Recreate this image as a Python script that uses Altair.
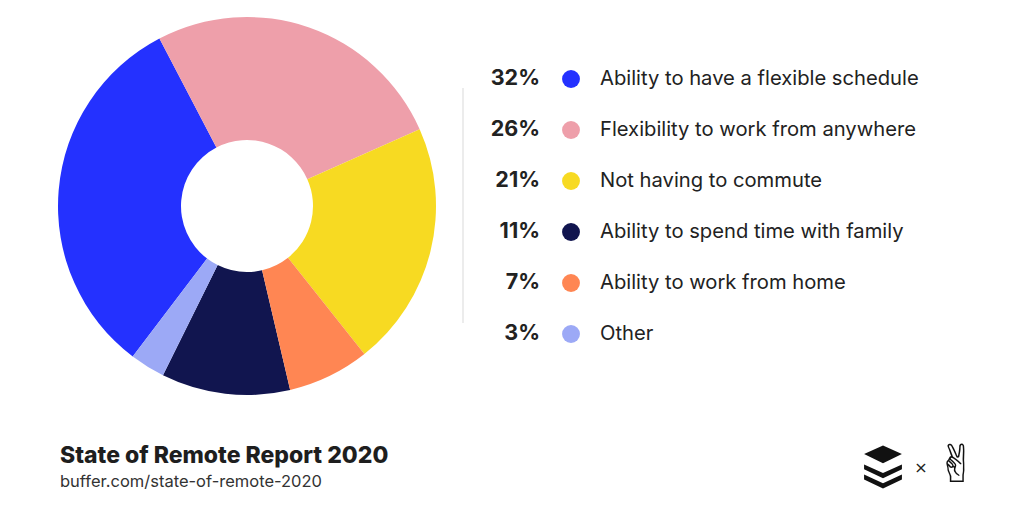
import math
import altair as alt
import pandas as pd

# ---- data ----
categories = [
    "Ability to have a flexible schedule",
    "Flexibility to work from anywhere",
    "Not having to commute",
    "Ability to spend time with family",
    "Ability to work from home",
    "Other",
]
values = [32, 26, 21, 11, 7, 3]
colors = ["#2431ff", "#ee9faa", "#f7da22", "#11154f", "#ff8653", "#9ca9f6"]
pie_order = [
    "Flexibility to work from anywhere",
    "Not having to commute",
    "Ability to work from home",
    "Ability to spend time with family",
    "Other",
    "Ability to have a flexible schedule",
]
title_text = "State of Remote Report 2020"
subtitle_text = "buffer.com/state-of-remote-2020"

df = pd.DataFrame({
    "category": categories,
    "value": values,
    "pct": [f"{v}%" for v in values],
    "pie_rank": [pie_order.index(c) for c in categories],
})

color_scale = alt.Scale(domain=categories, range=colors)
start = -27.6 * math.pi / 180

base = alt.Chart(df)

arc = base.mark_arc(outerRadius=189, innerRadius=66).encode(
    theta=alt.Theta("value:Q", stack=True,
                    scale=alt.Scale(range=[start, start + 2 * math.pi])),
    color=alt.Color("category:N", scale=color_scale, legend=None),
    order=alt.Order("pie_rank:Q"),
    x=alt.value(239),
    y=alt.value(198),
)

yenc = alt.Y("category:N", sort=categories, axis=None,
             scale=alt.Scale(type="point", range=[71, 326], padding=0))

pct = base.mark_text(align="right", baseline="middle", font="Inter",
                     fontWeight=700, fontSize=21.5, color="#222222").encode(
    x=alt.value(532), y=yenc, text="pct:N")

dots = base.mark_circle(size=320, opacity=1).encode(
    x=alt.value(563), y=yenc,
    color=alt.Color("category:N", scale=color_scale, legend=None))

labels = base.mark_text(align="left", baseline="middle", font="Inter",
                        fontSize=20.2, color="#222222").encode(
    x=alt.value(592), y=yenc, text="category:N")

sep = alt.Chart(pd.DataFrame({"a": [0]})).mark_rule(color="#e6e6e6", strokeWidth=1.5).encode(
    x=alt.value(455), y=alt.value(80), y2=alt.value(315))

titles = alt.Chart(pd.DataFrame({"t": [title_text]})).mark_text(
    align="left", baseline="alphabetic", font="Inter", fontWeight=800,
    fontSize=23, color="#1e1e1e").encode(
    x=alt.value(52), y=alt.value(455), text="t:N")

subtitle = alt.Chart(pd.DataFrame({"t": [subtitle_text]})).mark_text(
    align="left", baseline="alphabetic", font="Inter",
    fontSize=16.5, color="#333333").encode(
    x=alt.value(52), y=alt.value(479), text="t:N")

buffer_path = (
    "M0,-1 L0.88,-0.6 L0,-0.18 L-0.88,-0.6 Z "
    "M-0.88,-0.12 L0,0.28 L0.88,-0.12 L0.88,0.1 L0,0.52 L-0.88,0.1 Z "
    "M-0.88,0.35 L0,0.75 L0.88,0.35 L0.88,0.58 L0,1 L-0.88,0.58 Z"
)
logo = alt.Chart(pd.DataFrame({"a": [0]})).mark_point(
    shape=buffer_path, filled=True, color="#111111", opacity=1, size=1849,
    strokeWidth=0).encode(x=alt.value(875), y=alt.value(459))

times = alt.Chart(pd.DataFrame({"t": ["×"]})).mark_text(
    font="DejaVu Sans", fontSize=16, color="#222222", baseline="middle").encode(
    x=alt.value(913), y=alt.value(460), text="t:N")

hand = alt.Chart(pd.DataFrame({"t": ["✌"]})).mark_text(
    font="DejaVu Sans", fontSize=52, color="#111111", baseline="middle").encode(
    x=alt.value(949), y=alt.value(458), text="t:N")

chart = alt.layer(arc, sep, pct, dots, labels, titles, subtitle, logo, times, hand).properties(
    width=1008, height=502, autosize=alt.AutoSizeParams(type="none"), padding=0,
    background="white"
).configure_view(strokeWidth=0)

chart.save("out.html", embed_options={"renderer": "svg", "actions": False})
